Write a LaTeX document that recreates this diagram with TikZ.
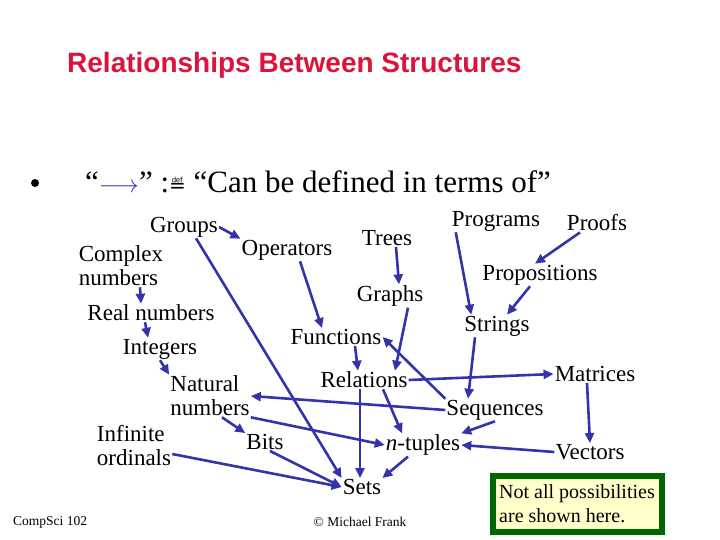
\documentclass[tikz,border=0pt]{standalone}
\usepackage{amsmath}
\usepackage{fontspec}
\setmainfont{Liberation Serif}
\newfontfamily\titlefont{Liberation Sans}
\newfontfamily\symbolfont{DejaVu Sans}
\usepackage{xcolor}
\usetikzlibrary{arrows.meta}
\definecolor{linkblue}{RGB}{51,51,170}
\definecolor{titlered}{RGB}{220,20,60}
\definecolor{notegreen}{RGB}{0,102,0}
\definecolor{noteyellow}{RGB}{255,255,204}

\begin{document}
\begin{tikzpicture}[x=1pt, y=-1pt,
    every node/.style={font=\fontsize{23}{24}\selectfont, inner sep=1pt},
    link/.style={-{Triangle[length=10pt,width=9pt]}, draw=linkblue, line width=2.6pt}]
      \useasboundingbox (0,0) rectangle (720,540);
      % heading and bullet line
      \node[anchor=west, font=\titlefont\bfseries\fontsize{28}{30}\selectfont, text=titlered] (title) at (66,65) {Relationships Between Structures};
      \node[circle, fill=black, inner sep=0pt, minimum size=8pt] (dot) at (35,183) {};
      \node[anchor=west, font=\fontsize{31}{33}\selectfont] (defn) at (84,182) {“\textcolor{linkblue}{$\longrightarrow$}” :{\symbolfont\fontsize{20}{20}\selectfont ≝} “Can be defined in terms of”};
      % structures
      \node (groups) at (184,227) {Groups};
      \node[align=left] (complex) at (121,266) {Complex\\numbers};
      \node (real) at (151,313) {Real numbers};
      \node (integers) at (160,349) {Integers};
      \node[align=left] (natural) at (210,396) {Natural\\numbers};
      \node[align=left] (ordinals) at (134,446) {Infinite\\ordinals};
      \node (bits) at (265,442) {Bits};
      \node (operators) at (287,250) {Operators};
      \node (trees) at (387,238) {Trees};
      \node (graphs) at (390,296) {Graphs};
      \node (functions) at (336,337) {Functions};
      \node (relations) at (364,380) {Relations};
      \node (sets) at (362,487) {Sets};
      \node (ntuples) at (423,445) {\textit{n}-tuples};
      \node (programs) at (496,221) {Programs};
      \node (proofs) at (597,223) {Proofs};
      \node (propositions) at (540,275) {Propositions};
      \node (strings) at (497,326) {Strings};
      \node (matrices) at (595,374) {Matrices};
      \node (sequences) at (495,410) {Sequences};
      \node (vectors) at (590,452) {Vectors};
      % footer and note
      \node[anchor=west, font=\fontsize{13.5}{15}\selectfont] (course) at (12,522) {CompSci 102};
      \node[font=\fontsize{13.5}{15}\selectfont] (author) at (360,522) {© Michael Frank};
      \node[draw=notegreen, line width=6pt, fill=noteyellow, align=left, minimum width=169pt, minimum height=56pt, font=\fontsize{20}{24}\selectfont] (note) at (577,504) {Not all possibilities\\are shown here.};
      % "can be defined in terms of" links
      \draw[link] (groups.east) -- (operators.north west);
      \draw[link] ([xshift=12pt]groups.south) -- (sets.north west);
      \draw[link] ([xshift=19pt]complex.south) -- ([xshift=-10pt]real.north);
      \draw[link] ([xshift=-6pt]real.south) -- ([xshift=-12pt]integers.north);
      \draw[link] (integers.south) -- (natural.north west);
      \draw[link] ([xshift=12pt]natural.south) -- (bits.north west);
      \draw[link] (natural.south east) -- (ntuples.west);
      \draw[link] ([yshift=-8pt]ordinals.east) -- (sets.west);
      \draw[link] ([xshift=5pt]bits.south) -- (sets.west);
      \draw[link] ([xshift=13pt]operators.south) -- ([xshift=-14pt]functions.north);
      \draw[link] ([xshift=9pt]trees.south) -- ([xshift=9pt]graphs.north);
      \draw[link] ([xshift=18pt]graphs.south) -- ([xshift=31pt]relations.north);
      \draw[link] ([xshift=19pt]functions.south) -- ([xshift=-6pt]relations.north);
      \draw[link] (sequences.north west) -- (functions.east);
      \draw[link] (relations.east) -- (matrices.west);
      \draw[link] (sequences.west) -- (natural.east);
      \draw[link] ([xshift=-4pt]relations.south) -- ([xshift=-2pt]sets.north);
      \draw[link] ([xshift=19pt]relations.south) -- ([xshift=-21pt]ntuples.north);
      \draw[link] ([xshift=-15pt]ntuples.south) -- (sets.north east);
      \draw[link] (sequences.south) -- (ntuples.north east);
      \draw[link] (vectors.west) -- (ntuples.east);
      \draw[link] ([xshift=-8pt]matrices.south) -- (vectors.north);
      \draw[link] ([xshift=5pt]programs.south west) -- ([xshift=8pt]strings.north west);
      \draw[link] ([xshift=-10pt]propositions.south) -- ([xshift=10pt]strings.north);
      \draw[link] ([xshift=-17pt]proofs.south) -- ([xshift=-5pt]propositions.north);
      \draw[link] ([xshift=-22pt]strings.south) -- ([xshift=-27pt]sequences.north);
    \end{tikzpicture}
\end{document}
